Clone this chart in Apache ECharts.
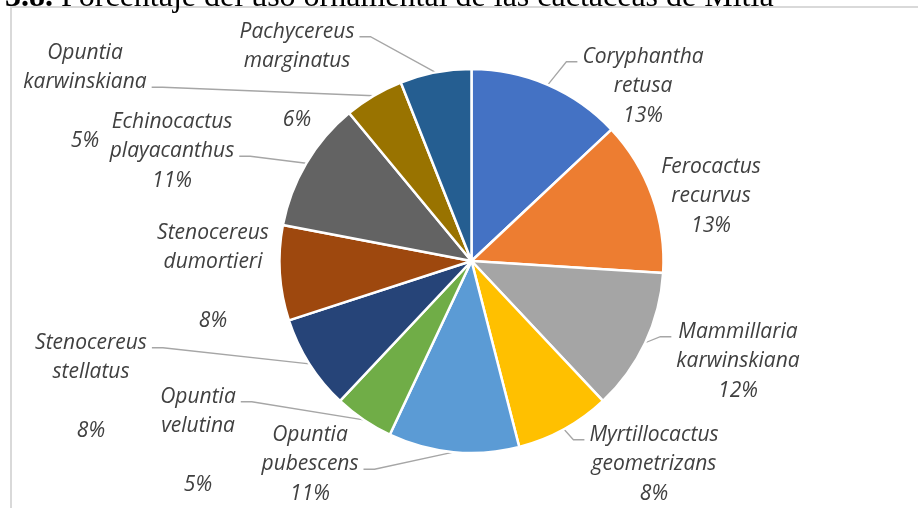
<!DOCTYPE html>
<html>
<head>
<meta charset="utf-8">
<script src="https://cdn.jsdelivr.net/npm/echarts@6/dist/echarts.min.js"></script>
<style>
  html, body { margin: 0; padding: 0; background: #fff; }
  #chart { width: 918px; height: 508px; }
</style>
</head>
<body>
<div id="chart"></div>
<script>
// Species of cacti with ornamental use, in clockwise order from 12 o'clock
const species = [
  'Coryphantha retusa',
  'Ferocactus recurvus',
  'Mammillaria karwinskiana',
  'Myrtillocactus geometrizans',
  'Opuntia pubescens',
  'Opuntia velutina',
  'Stenocereus stellatus',
  'Stenocereus dumortieri',
  'Echinocactus playacanthus',
  'Opuntia karwinskiana',
  'Pachycereus marginatus'
];

// Share of ornamental use (%)
const shares = [13, 13, 12, 8, 11, 5, 8, 8, 11, 5, 6];

const sliceColors = [
  '#4472C4', '#ED7D31', '#A5A5A5', '#FFC000', '#5B9BD5', '#70AD47',
  '#264478', '#9E480E', '#636363', '#997300', '#255E91'
];

// Label placement: [centre x, top y], which edge the leader leaves from,
// which text line it is attached to, and whether the percentage sits one line lower
const LINE_H = 29.5;
const labelPlace = [
  [643, 42], [711, 152], [738, 317], [654, 420], [310, 420], [198, 382],
  [91, 328], [213, 218], [172, 107], [85, 38], [297, 17]
];
const leaderSide = ['left', null, 'left', 'left', 'right', 'right', 'right', null, 'right', 'right', 'right'];
const leaderLineNo = [0, 0, 0, 0, 1, 0, 0, 0, 1, 1, 0];
const spacedPercent = [false, false, false, false, false, true, true, true, false, true, true];

const chart = echarts.init(document.getElementById('chart'), null, { renderer: 'canvas' });

const labelFont = { fontFamily: 'Open Sans', fontStyle: 'italic', fontSize: 21, color: '#404040' };

chart.setOption({
  animation: false,
  backgroundColor: '#ffffff',
  title: {
    text: '{b|3.8.} Porcentaje del uso ornamental de las cactáceas de Mitla',
    left: 5,
    top: -18,
    padding: 0,
    textStyle: {
      fontFamily: 'Liberation Serif',
      fontSize: 32,
      fontWeight: 'normal',
      color: '#000000',
      rich: {
        b: { fontFamily: 'Liberation Serif', fontSize: 32, fontWeight: 'bold', color: '#000000' }
      }
    }
  },
  graphic: [{
    type: 'rect',
    z: -10,
    shape: { x: 11, y: 7, width: 1000, height: 600 },
    style: { fill: 'none', stroke: '#D9D9D9', lineWidth: 2 }
  }],
  series: [{
    type: 'pie',
    center: [471.5, 261],
    radius: 192,
    startAngle: 90,
    clockwise: true,
    avoidLabelOverlap: false,
    emphasis: { scale: false },
    itemStyle: { borderColor: '#ffffff', borderWidth: 2.5 },
    label: Object.assign({
      show: true,
      position: 'outside',
      lineHeight: LINE_H,
      formatter: function (p) {
        const words = p.name.split(' ');
        const gap = spacedPercent[p.dataIndex] ? '\n' : '';
        return words.join('\n') + '\n' + gap + p.value + '%';
      }
    }, labelFont),
    labelLine: {
      show: true,
      smooth: false,
      lineStyle: { color: '#A6A6A6', width: 1.3 }
    },
    labelLayout: function (p) {
      const i = p.dataIndex;
      const place = labelPlace[i];
      const out = { x: place[0], y: place[1], align: 'center', verticalAlign: 'top' };
      const side = leaderSide[i];
      if (side && p.labelLinePoints) {
        const anchor = p.labelLinePoints[0];
        const w = p.labelRect.width;
        const ly = place[1] + (leaderLineNo[i] + 0.5) * LINE_H + 5;
        const sx = side === 'left' ? place[0] - w / 2 - 5 : place[0] + w / 2 + 5;
        const hx = side === 'left' ? sx - 11 : sx + 11;
        out.labelLinePoints = [[sx, ly], [hx, ly], [anchor[0], anchor[1]]];
      }
      return out;
    },
    data: species.map(function (name, i) {
      const item = {
        name: name,
        value: shares[i],
        itemStyle: { color: sliceColors[i] }
      };
      if (!leaderSide[i]) item.labelLine = { show: false };
      return item;
    })
  }]
});
</script>
</body>
</html>
